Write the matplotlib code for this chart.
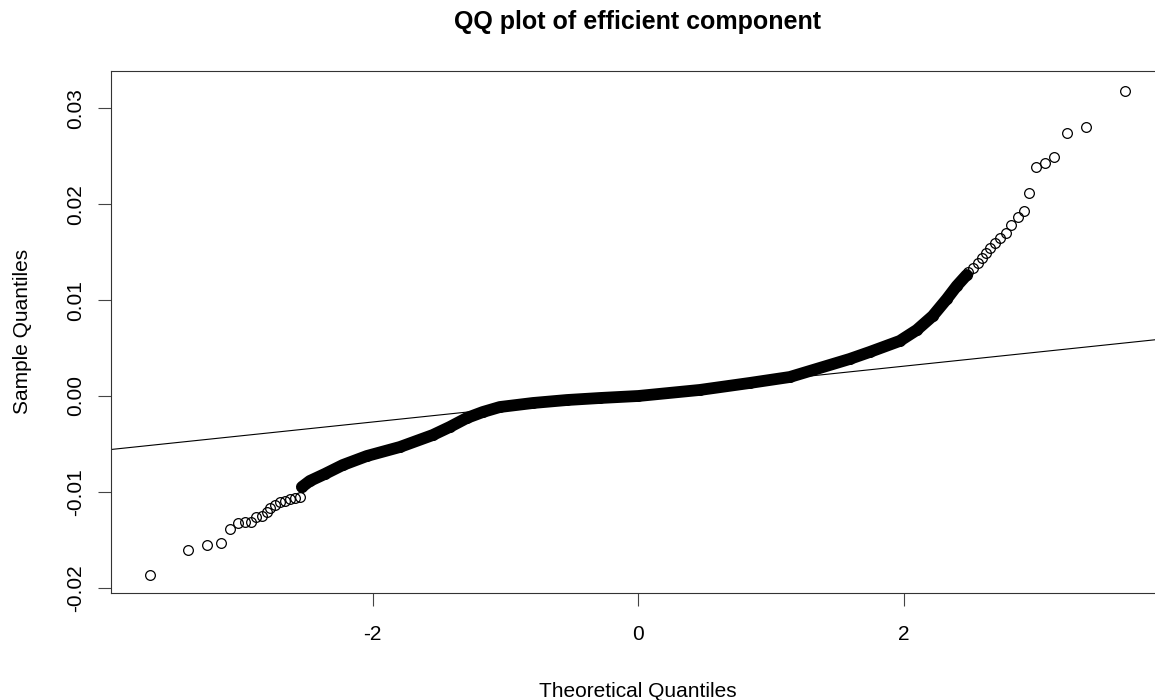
import matplotlib
matplotlib.use("Agg")
import matplotlib.pyplot as plt

plt.rcParams["font.family"] = ["Liberation Sans", "DejaVu Sans"]

# values
# lower tail, single points
left_x = [-3.681, -3.390, -3.247, -3.146, -3.076, -3.014, -2.963, -2.920, -2.880,
          -2.837, -2.800, -2.775, -2.737, -2.700, -2.662, -2.624, -2.587, -2.549]
left_y = [-0.01867, -0.01606, -0.01554, -0.01536, -0.01387, -0.01327, -0.01317, -0.01311,
          -0.01259, -0.01251, -0.01206, -0.01171, -0.01137, -0.01102, -0.01092, -0.01077,
          -0.01067, -0.01056]

# the dense middle, where the circles merge into one band
band_x = [-2.534, -2.474, -2.361, -2.226, -2.045, -1.796, -1.548, -1.420, -1.291, -1.171,
          -1.043, -0.794, -0.538, -0.290, 0.0, 0.463, 0.840, 1.141, 1.592, 1.743, 1.969,
          2.097, 2.217, 2.323, 2.398, 2.473]
band_y = [-0.00949, -0.00886, -0.00813, -0.00720, -0.00626, -0.00532, -0.00407, -0.00323,
          -0.00229, -0.00167, -0.00115, -0.00073, -0.00042, -0.00021, 0.0, 0.00063, 0.00136,
          0.00198, 0.00386, 0.00459, 0.00574, 0.00688, 0.00834, 0.01011, 0.01147, 0.01262]

# upper tail, single points
right_x = [2.481, 2.519, 2.556, 2.587, 2.617, 2.647, 2.684, 2.722, 2.767, 2.805, 2.858,
           2.903, 2.941, 2.993, 3.061, 3.129, 3.227, 3.370, 3.664]
right_y = [0.01293, 0.01335, 0.01387, 0.01439, 0.01491, 0.01543, 0.01595, 0.01648, 0.01700,
           0.01783, 0.01867, 0.01929, 0.02117, 0.02388, 0.02430, 0.02492, 0.02742, 0.02805,
           0.03180]

# qqline
line_intercept = 0.00020
line_slope = 0.001455

x_ticks = [-2, 0, 2]
y_ticks = [-0.02, -0.01, 0.00, 0.01, 0.02, 0.03]

fig = plt.figure(figsize=(11.55, 7.0), dpi=100)
# right edge of the box runs past the picture, as in the reference
ax = fig.add_axes([0.0958, 0.1533, 0.9137, 0.7453])

circle = dict(marker="o", ms=7.0, mfc="none", mec="black", mew=0.9, linestyle="none")

ax.plot(band_x, band_y, color="black", lw=8.5, solid_capstyle="round",
        solid_joinstyle="round")
ax.plot(band_x, band_y, **circle)
ax.plot(left_x, left_y, **circle)
ax.plot(right_x, right_y, **circle)

ax.axline((0, line_intercept), slope=line_slope, color="black", lw=0.8)

ax.set_xlim(-3.974, 3.974)
ax.set_ylim(-0.02051, 0.03389)

ax.set_xticks(x_ticks)
ax.set_xticklabels([str(t) for t in x_ticks])
ax.set_yticks(y_ticks)
ax.set_yticklabels([f"{t:.2f}" for t in y_ticks], rotation=90, va="center")

ax.tick_params(direction="out", length=9.5, width=0.8, labelsize=15, color="#444444")
ax.tick_params(axis="x", pad=14)
ax.tick_params(axis="y", pad=9)

for side in ax.spines.values():
    side.set_linewidth(0.8)
    side.set_color("#333333")

ax.set_xlabel("Theoretical Quantiles", fontsize=15, va="center")
ax.xaxis.set_label_coords(0.5, -0.19)
ax.set_ylabel("Sample Quantiles", fontsize=15, va="center", ha="center")
ax.yaxis.set_label_coords(-0.0831, 0.5)

fig.text(638 / 1155, 1 - 22 / 700, "QQ plot of efficient component", fontsize=18,
         fontweight="bold", ha="center", va="center")

fig.savefig("out.png", dpi=100)
